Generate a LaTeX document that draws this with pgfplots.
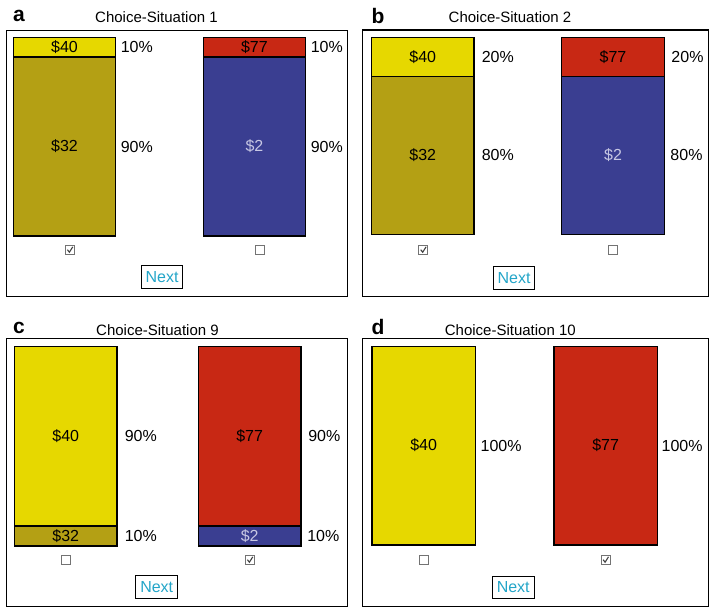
\documentclass[border=0pt]{standalone}
\usepackage{fontspec}
\setmainfont{Liberation Sans}
\usepackage{pgfplots}
\pgfplotsset{compat=1.18}
\definecolor{cyel}{RGB}{230,216,0}
\definecolor{colive}{RGB}{180,160,20}
\definecolor{cblue}{RGB}{58,62,145}
\definecolor{cred}{RGB}{200,40,20}
\definecolor{clav}{RGB}{200,200,228}
\definecolor{cnext}{RGB}{35,165,200}
\pgfplotsset{
  panel/.style={
    scale only axis, anchor=south west,
    axis line style={line width=1.4pt},
    xtick=\empty, ytick=\empty,
    ybar stacked, clip=false,
    every axis plot/.append style={draw=black, line width=1.3pt},
  },
}
\newcommand{\bl}[1]{\fontsize{16}{19}\selectfont #1}
\newcommand{\cbox}[2]{\node[draw=black!55, line width=1pt, minimum size=9pt, inner sep=0pt] at (#1pt,#2pt) {};}
\newcommand{\cboxc}[2]{\cbox{#1}{#2}\draw[line width=1.1pt, black!75] ([shift={(-2.6pt,0.3pt)}]#1pt,#2pt) -- ++(2pt,-2.5pt) -- ++(3.4pt,5.4pt);}
\newcommand{\nextbtn}[2]{\node[draw=black, line width=0.9pt, minimum width=41.7pt, minimum height=22.7pt, inner sep=0pt, text=cnext, font=\fontsize{16}{19}\selectfont] at (#1pt,#2pt) {Next};}
\begin{document}
\begin{tikzpicture}
\useasboundingbox (0pt,0pt) rectangle (717pt,613pt);

% ---------- panel a ----------
\begin{axis}[panel, at={(6.7pt,316.3pt)}, width=341pt, height=266.2pt,
  xmin=-0.304, xmax=1.491, ymin=-30.5, ymax=103.4, bar width=0.539,
  after end axis/.code={
    \node at (axis cs:0,95) {\bl{\$40}};
    \node at (axis cs:0,45) {\bl{\$32}};
    \node[text=clav] at (axis cs:1,45) {\bl{\$2}};
    \node at (axis cs:1,95) {\bl{\$77}};
    \node[anchor=west, inner sep=0pt, xshift=5pt] at (axis cs:0.2695,95) {\bl{10\%}};
    \node[anchor=west, inner sep=0pt, xshift=5pt] at (axis cs:0.2695,45) {\bl{90\%}};
    \node[anchor=west, inner sep=0pt, xshift=5pt] at (axis cs:1.2695,95) {\bl{10\%}};
    \node[anchor=west, inner sep=0pt, xshift=5pt] at (axis cs:1.2695,45) {\bl{90\%}};
  }]
\addplot[fill=colive] coordinates {(0,90) (1,0)};
\addplot[fill=cblue] coordinates {(0,0) (1,90)};
\addplot[fill=cyel] coordinates {(0,10) (1,0)};
\addplot[fill=cred] coordinates {(0,0) (1,10)};
\end{axis}

% ---------- panel b ----------
\begin{axis}[panel, at={(362.3pt,316.3pt)}, width=346pt, height=266.7pt,
  xmin=-0.318, xmax=1.501, ymin=-31.7, ymax=103.7, bar width=0.539,
  after end axis/.code={
    \node at (axis cs:0,90) {\bl{\$40}};
    \node at (axis cs:0,40) {\bl{\$32}};
    \node[text=clav] at (axis cs:1,40) {\bl{\$2}};
    \node at (axis cs:1,90) {\bl{\$77}};
    \node[anchor=west, inner sep=0pt, xshift=7.5pt] at (axis cs:0.2695,90) {\bl{20\%}};
    \node[anchor=west, inner sep=0pt, xshift=7.5pt] at (axis cs:0.2695,40) {\bl{80\%}};
    \node[anchor=west, inner sep=0pt, xshift=7pt] at (axis cs:1.2695,90) {\bl{20\%}};
    \node[anchor=west, inner sep=0pt, xshift=6pt] at (axis cs:1.2695,40) {\bl{80\%}};
  }]
\addplot[fill=colive] coordinates {(0,80) (1,0)};
\addplot[fill=cblue] coordinates {(0,0) (1,80)};
\addplot[fill=cyel] coordinates {(0,20) (1,0)};
\addplot[fill=cred] coordinates {(0,0) (1,20)};
\end{axis}

% ---------- panel c ----------
\begin{axis}[panel, at={(6.7pt,6.3pt)}, width=341pt, height=268.4pt,
  xmin=-0.321, xmax=1.533, ymin=-30.4, ymax=104, bar width=0.559,
  after end axis/.code={
    \node at (axis cs:0,55) {\bl{\$40}};
    \node at (axis cs:0,5) {\bl{\$32}};
    \node[text=clav] at (axis cs:1,5) {\bl{\$2}};
    \node at (axis cs:1,55) {\bl{\$77}};
    \node[anchor=west, inner sep=0pt, xshift=7.5pt] at (axis cs:0.2795,55) {\bl{90\%}};
    \node[anchor=west, inner sep=0pt, xshift=7.5pt] at (axis cs:0.2795,5) {\bl{10\%}};
    \node[anchor=west, inner sep=0pt, xshift=7pt] at (axis cs:1.2795,55) {\bl{90\%}};
    \node[anchor=west, inner sep=0pt, xshift=6pt] at (axis cs:1.2795,5) {\bl{10\%}};
  }]
\addplot[fill=colive] coordinates {(0,10) (1,0)};
\addplot[fill=cblue] coordinates {(0,0) (1,10)};
\addplot[fill=cyel] coordinates {(0,90) (1,0)};
\addplot[fill=cred] coordinates {(0,0) (1,90)};
\end{axis}

% ---------- panel d ----------
\begin{axis}[panel, at={(362.3pt,6.3pt)}, width=346pt, height=268.4pt,
  xmin=-0.337, xmax=1.564, ymin=-31.05, ymax=104, bar width=0.569,
  after end axis/.code={
    \node at (axis cs:0,50) {\bl{\$40}};
    \node at (axis cs:1,50) {\bl{\$77}};
    \node[anchor=west, inner sep=0pt, xshift=5pt] at (axis cs:0.2845,50) {\bl{100\%}};
    \node[anchor=west, inner sep=0pt, xshift=4pt] at (axis cs:1.2845,50) {\bl{100\%}};
  }]
\addplot[fill=cyel] coordinates {(0,100) (1,0)};
\addplot[fill=cred] coordinates {(0,0) (1,100)};
\end{axis}

% ---------- titles and panel letters ----------
\node at (156.5pt,596pt) {\fontsize{15}{18}\selectfont Choice-Situation 1};
\node at (510pt,596pt) {\fontsize{15}{18}\selectfont Choice-Situation 2};
\node at (157.5pt,283pt) {\fontsize{15}{18}\selectfont Choice-Situation 9};
\node at (510.3pt,283pt) {\fontsize{15}{18}\selectfont Choice-Situation 10};
\node[inner sep=0pt] at (19pt,597pt) {\fontsize{21}{24}\selectfont\bfseries a};
\node[inner sep=0pt] at (378pt,596.7pt) {\fontsize{21}{24}\selectfont\bfseries b};
\node[inner sep=0pt] at (19pt,284.7pt) {\fontsize{21}{24}\selectfont\bfseries c};
\node[inner sep=0pt] at (378pt,286.3pt) {\fontsize{21}{24}\selectfont\bfseries d};

% ---------- checkboxes ----------
\cboxc{70}{363}
\cbox{260}{363}
\cboxc{423.3}{363}
\cbox{613.3}{363}
\cbox{66}{53}
\cboxc{250}{53}
\cbox{424.3}{53}
\cboxc{605.7}{53}

% ---------- Next buttons ----------
\nextbtn{162}{335.7}
\nextbtn{514}{335.3}
\nextbtn{156.7}{26}
\nextbtn{513.2}{25.5}
\end{tikzpicture}
\end{document}
